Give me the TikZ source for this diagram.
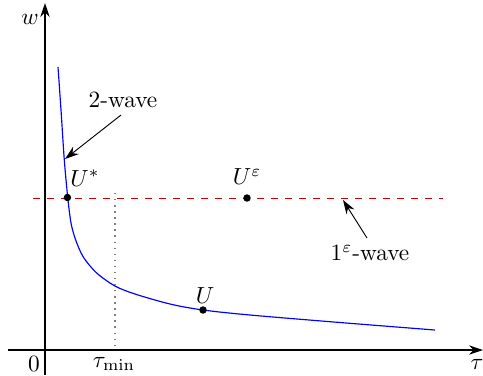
\documentclass[tikz,border=0pt]{standalone}
\usetikzlibrary{arrows.meta}
\begin{document}
\begin{tikzpicture}[x=0.4286pt,y=-0.4286pt,
  axis/.style={line width=0.5pt,-{Stealth[length=6pt,width=4pt]}},
  ann/.style={line width=0.4pt,-{Stealth[length=6pt,width=4pt]}},
  dot/.style={circle,fill,inner sep=0pt,minimum size=3.2pt},
  lbl/.style={inner sep=1pt}]
\useasboundingbox (0,0) rectangle (483,375);
% axes
\coordinate (xs) at (8,350);
\coordinate (xe) at (483,350);
\coordinate (ys) at (45,375);
\coordinate (ye) at (45,3);
\draw[axis] (xs) -- (xe);
\draw[axis] (ys) -- (ye);
\node[lbl] (w) at (30,19) {$w$};
\node[lbl] (tau) at (477,364) {$\tau$};
\node[lbl] (zero) at (34,364) {$0$};
\node[lbl] (taumin) at (114,364) {$\tau_{\min}$};
% dotted
\coordinate (d1) at (115,193);
\coordinate (d2) at (115,350);
\draw[gray,dotted,line width=0.6pt] (d1) -- (d2);
% dashed
\coordinate (h1) at (33,198);
\coordinate (h2) at (443,198);
\draw[red!80!black,dashed,line width=0.4pt] (h1) -- (h2);
% curve
\draw[blue,line width=0.5pt] plot[smooth,tension=0.5] coordinates {(58,67) (61,110) (64.3,160) (67.7,197) (71,223) (75.7,240) (83.3,257) (96.7,273) (115,286) (135,294) (170,304) (203,310) (250,315) (340,322.5) (435,330)};
% points
\node[dot] (Us) at (67.4,197.5) {};
\node[dot] (Ue) at (247,198) {};
\node[dot] (U) at (203,310) {};
\node[lbl] (Uslbl) at (85,178) {$U^*$};
\node[lbl] (Uelbl) at (247,177) {$U^\varepsilon$};
\node[lbl] (Ulbl) at (205,296) {$U$};
% annotations
\node[lbl] (w2) at (123,100) {2-wave};
\coordinate (w2a) at (121,115);
\coordinate (w2b) at (65,159);
\draw[ann] (w2a) -- (w2b);
\node[lbl] (w1) at (370,253) {$1^\varepsilon$-wave};
\coordinate (w1a) at (367,238);
\coordinate (w1b) at (343,200);
\draw[ann] (w1a) -- (w1b);
\end{tikzpicture}
\end{document}
